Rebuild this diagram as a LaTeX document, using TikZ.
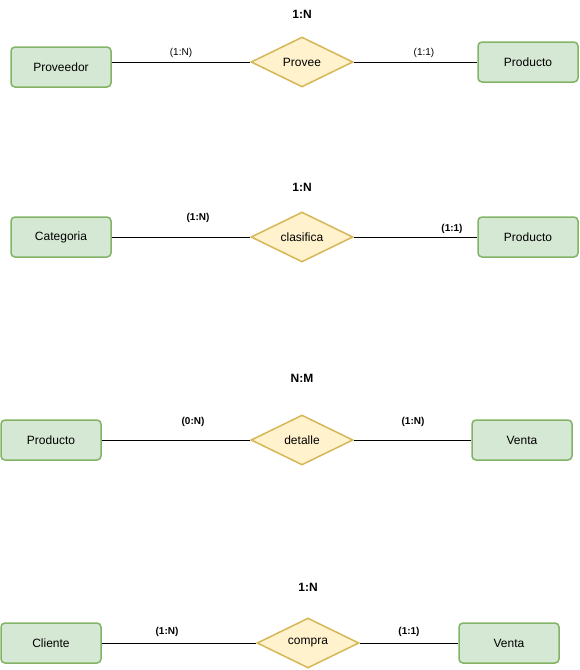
\documentclass[tikz,border=0pt]{standalone}
\usepackage{fontspec}
\setmainfont{Liberation Sans}
\usetikzlibrary{shapes.geometric}
\definecolor{entfill}{HTML}{D5E8D4}
\definecolor{entdraw}{HTML}{82B366}
\definecolor{relfill}{HTML}{FFF2CC}
\definecolor{reldraw}{HTML}{D6B656}
\tikzset{
  entity/.style={draw=entdraw, fill=entfill, line width=1.5pt, rounded corners=4pt,
    minimum width=100pt, minimum height=40pt, inner sep=0pt, font=\fontsize{12}{14}\selectfont},
  rel/.style={diamond, draw=reldraw, fill=relfill, line width=1.5pt, aspect=2,
    minimum width=102pt, minimum height=50pt, inner sep=0pt, font=\fontsize{12}{14}\selectfont},
  card/.style={font=\fontsize{10}{12}\selectfont, inner sep=1pt},
  bcard/.style={font=\fontsize{10}{12}\selectfont\bfseries, inner sep=1pt},
  title/.style={font=\fontsize{12}{14}\selectfont\bfseries, inner sep=1pt},
  link/.style={draw=black, line width=1pt}
}
\begin{document}
\begin{tikzpicture}[x=1pt, y=-1pt]
\useasboundingbox (0,0) rectangle (579,670);
% Row 1
\node[entity] (prov) at (61,67) {Proveedor};
\node[rel] (r1) at (302,62) {Provee};
\node[entity] (prod1) at (528,62) {Producto};
\draw[link] (prov.east |- r1.west) -- (r1.west);
\draw[link] (r1.east) -- (prod1.west);
\node[title] (t1) at (302,14) {1:N};
\node[card] (c1a) at (181,53) {(1:N)};
\node[card] (c1b) at (424,53) {(1:1)};
% Row 2
\node[entity] (cat) at (61,237) {Categoria};
\node[rel] (r2) at (302,237) {clasifica};
\node[entity] (prod2) at (528,237) {Producto};
\draw[link] (cat.east) -- (r2.west);
\draw[link] (r2.east) -- (prod2.west);
\node[title] (t2) at (302,187) {1:N};
\node[bcard] (c2a) at (198,218) {(1:N)};
\node[bcard] (c2b) at (452,229) {(1:1)};
% Row 3
\node[entity] (prod3) at (51,440) {Producto};
\node[rel] (r3) at (302,440) {detalle};
\node[entity] (ven3) at (522,440) {Venta};
\draw[link] (prod3.east) -- (r3.west);
\draw[link] (r3.east) -- (ven3.west);
\node[title] (t3) at (302,378) {N:M};
\node[bcard] (c3a) at (193,422) {(0:N)};
\node[bcard] (c3b) at (413,422) {(1:N)};
% Row 4
\node[entity] (cli) at (51,643) {Cliente};
\node[rel] (r4) at (308,643) {compra};
\node[entity] (ven4) at (509,643) {Venta};
\draw[link] (cli.east) -- (r4.west);
\draw[link] (r4.east) -- (ven4.west);
\node[title] (t4) at (308,587) {1:N};
\node[bcard] (c4a) at (167,632) {(1:N)};
\node[bcard] (c4b) at (409,632) {(1:1)};
\end{tikzpicture}
\end{document}
